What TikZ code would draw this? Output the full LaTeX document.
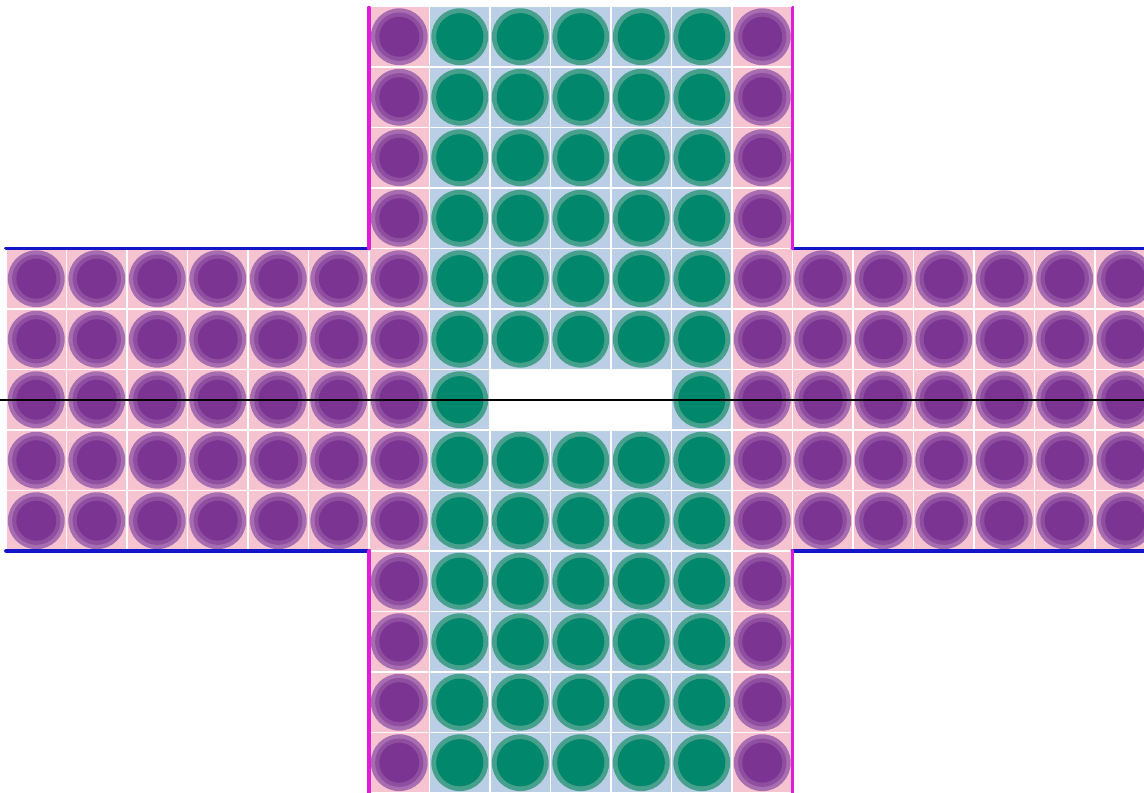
\documentclass[tikz,border=0pt]{standalone}
\definecolor{cellpink}{RGB}{245,196,208}
\definecolor{cellblue}{RGB}{186,206,229}
\definecolor{purpring}{RGB}{166,110,177}
\definecolor{purpmid}{RGB}{143,78,160}
\definecolor{purpcore}{RGB}{123,52,146}
\definecolor{greenring}{RGB}{70,160,140}
\definecolor{greencore}{RGB}{0,135,108}
\definecolor{edgeblue}{RGB}{20,20,200}
\definecolor{edgemagenta}{RGB}{225,30,215}

\tikzset{
	purple cell/.pic={
		\fill[cellpink] (-.485,-.485) rectangle (.485,.485);
		\fill[purpring] (0,0) circle (.47);
		\fill[purpmid] (0,0) circle (.40);
		\fill[purpcore] (0,0) circle (.33);
	},
	green cell/.pic={
		\fill[cellblue] (-.485,-.485) rectangle (.485,.485);
		\fill[greenring] (0,0) circle (.47);
		\fill[greencore] (0,0) circle (.39);
	},
	rim/.style={line width=1.8pt, line cap=round}
}

\begin{document}
\begin{tikzpicture}[line cap=round, line join=round]
		% Bounding box definition
		\def\xmin{-0.1} \def\xmax{18.81}
		\def\ymin{0} \def\ymax{13.107}
		\useasboundingbox (\xmin,\ymin) rectangle (\xmax,\ymax);
		
		% Scope to clip the lattice within window bounds
		\begin{scope}
			\clip (\xmin,\ymin) rectangle (\xmax,\ymax);
			
			% Horizontal arm, left and right purple blocks
			\foreach \c in {0,...,5} \foreach \r in {4,...,8}
				\pic at (\c+.5,\r+.5) {purple cell};
			\foreach \c in {13,...,18} \foreach \r in {4,...,8}
				\pic at (\c+.5,\r+.5) {purple cell};
			
			% Vertical arm, purple border columns
			\foreach \c in {6,12} \foreach \r in {0,...,12}
				\pic at (\c+.5,\r+.5) {purple cell};
			
			% Vertical arm, green core (hole in the middle row)
			\foreach \c in {7,...,11} \foreach \r in {0,...,5,7,8,9,10,11,12}
				\pic at (\c+.5,\r+.5) {green cell};
			\foreach \c in {7,11}
				\pic at (\c+.5,6.5) {green cell};
		\end{scope}
		
		% Blue edges of the horizontal arm
		\draw[rim, edgeblue] (0,4) -- (6,4);
		\draw[rim, edgeblue] (0,9) -- (6,9);
		\draw[rim, edgeblue] (13,4) -- (\xmax,4);
		\draw[rim, edgeblue] (13,9) -- (\xmax,9);
		
		% Magenta edges of the vertical arm
		\draw[rim, edgemagenta] (6,0) -- (6,4);
		\draw[rim, edgemagenta] (6,9) -- (6,12.98);
		\draw[rim, edgemagenta] (13,0) -- (13,4);
		\draw[rim, edgemagenta] (13,9) -- (13,12.98);
		
		% Black mid line through the hole
		\draw[black, line width=1pt] (\xmin,6.5) -- (\xmax,6.5);
	\end{tikzpicture}
\end{document}
